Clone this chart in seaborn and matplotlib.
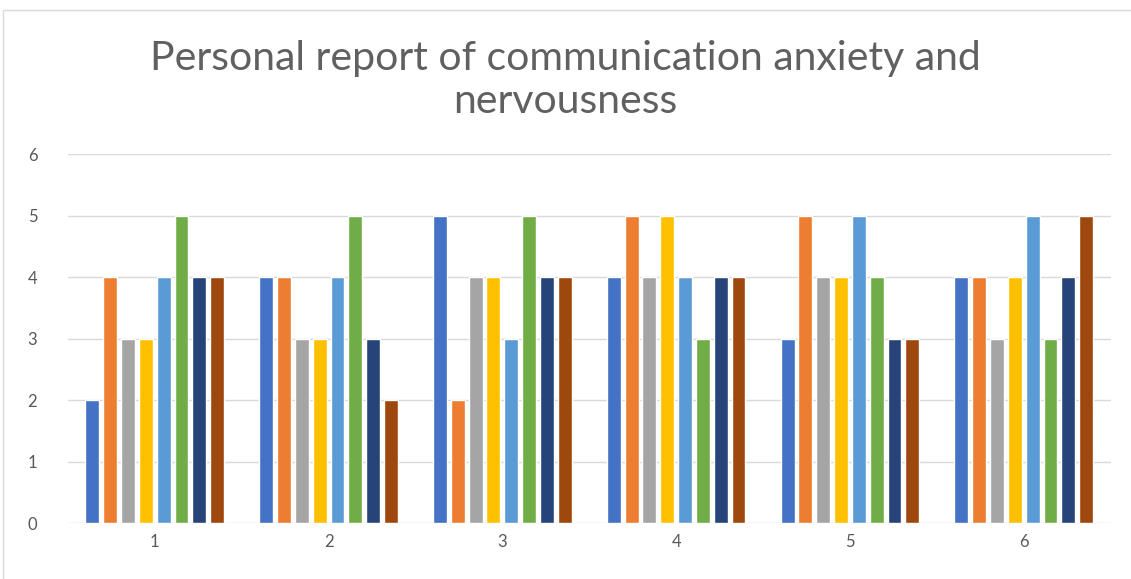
import matplotlib
matplotlib.use("Agg")
import matplotlib.pyplot as plt
import seaborn as sns
import pandas as pd
from matplotlib.patches import Rectangle

categories = ["1", "2", "3", "4", "5", "6"]
series_names = ["S1", "S2", "S3", "S4", "S5", "S6", "S7", "S8"]
s1 = [2, 4, 5, 4, 3, 4]
s2 = [4, 4, 2, 5, 5, 4]
s3 = [3, 3, 4, 4, 4, 3]
s4 = [3, 3, 4, 5, 4, 4]
s5 = [4, 4, 3, 4, 5, 5]
s6 = [5, 5, 5, 3, 4, 3]
s7 = [4, 3, 4, 4, 3, 4]
s8 = [4, 2, 4, 4, 3, 5]
series_values = [s1, s2, s3, s4, s5, s6, s7, s8]
colors = ["#4472C4", "#ED7D31", "#A5A5A5", "#FFC000", "#5B9BD5", "#70AD47", "#264478", "#9E480E"]

rows = []
for name, vals in zip(series_names, series_values):
    for c, v in zip(categories, vals):
        rows.append({"cat": c, "series": name, "value": v})
df = pd.DataFrame(rows)

sns.set_theme(style="white")
plt.rcParams['font.family'] = ['Lato', 'DejaVu Sans']

fig = plt.figure(figsize=(11.31, 5.79), dpi=100)
ax = fig.add_axes([0.060, 0.0967, 0.922, 0.637])

sns.barplot(data=df, x="cat", y="value", hue="series", order=categories,
            hue_order=series_names, palette=colors, width=0.82, gap=0.22,
            ax=ax, legend=False, saturation=1)

ax.set_ylim(0, 6)
ax.set_xlim(-0.5, 5.5)
ax.set_yticks(range(0, 7))
ax.yaxis.grid(True, color="#d9d9d9", linewidth=1)
ax.set_axisbelow(True)
for s in ax.spines.values():
    s.set_visible(False)
ax.set_xlabel("")
ax.set_ylabel("")
ax.tick_params(axis="both", length=0, labelsize=12, labelcolor="#595959")
ax.tick_params(axis="y", pad=22)
ax.tick_params(axis="x", pad=8)

fig.text(0.5, 0.862, "Personal report of communication anxiety and\nnervousness",
         ha="center", va="center", fontsize=29.5, color="#606060",
         fontweight="normal", linespacing=1.2)

fig.patches.append(Rectangle((0.003, -0.01), 1.0, 0.993, transform=fig.transFigure,
                             fill=False, edgecolor="#d9d9d9", linewidth=1))

fig.savefig("out.png", dpi=100)
